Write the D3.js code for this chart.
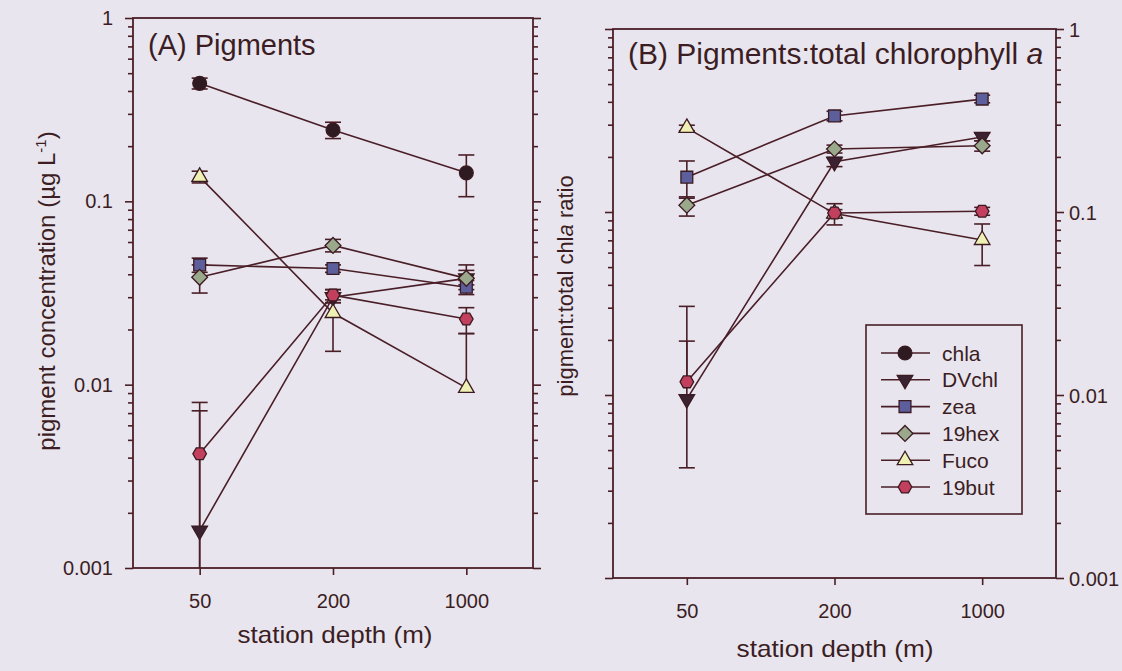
<!DOCTYPE html>
<html><head><meta charset="utf-8">
<script src="https://cdn.jsdelivr.net/npm/d3@7"></script>
<style>body{margin:0;background:#e8e5ee}svg{display:block}</style>
</head><body><svg id="c" width="1122" height="671"></svg>
<script>
// ---- data ----
const depths = ["50", "200", "1000"];
const names = ["chla", "DVchl", "zea", "19hex", "Fuco", "19but"];
const majorTicks = [0.001, 0.01, 0.1, 1];
const majorLabels = ["0.001", "0.01", "0.1", "1"];

// Panel A: pigment concentration (ug/L), with error-bar ends (null = none)
const aChla   = [0.44, 0.245, 0.143],  aChlaLo = [0.41, 0.22, 0.106],   aChlaHi = [0.47, 0.27, 0.179];
const aDV     = [0.0016, 0.030, 0.038], aDVLo  = [0.0001, 0.028, 0.035], aDVHi  = [0.0072, 0.033, 0.042];
const aZea    = [0.045, 0.043, 0.034],  aZeaLo = [0.041, 0.041, 0.031],  aZeaHi = [0.049, 0.045, 0.037];
const aHex    = [0.0385, 0.0575, 0.038], aHexLo = [0.0316, 0.053, 0.033], aHexHi = [0.045, 0.062, 0.045];
const aFuco   = [0.136, 0.0246, 0.0096], aFucoLo = [0.126, 0.0152, null], aFucoHi = [0.146, 0.028, 0.019];
const aBut    = [0.0042, 0.0308, 0.0228], aButLo = [0.0001, 0.029, 0.019], aButHi = [0.0080, 0.033, 0.0263];

// Panel B: pigment : total chla ratio
const bDV     = [0.0095, 0.188, 0.257], bDVLo  = [0.0040, 0.177, 0.245], bDVHi  = [0.0197, 0.199, 0.27];
const bZea    = [0.155, 0.335, 0.414],  bZeaLo = [0.121, 0.315, 0.395],  bZeaHi = [0.19, 0.355, 0.435];
const bHex    = [0.109, 0.221, 0.230],  bHexLo = [0.095, 0.21, 0.215],   bHexHi = [0.119, 0.232, 0.245];
const bFuco   = [0.288, 0.098, 0.0703], bFucoLo = [0.278, 0.093, 0.051], bFucoHi = [0.298, 0.103, 0.086];
const bBut    = [0.0118, 0.0988, 0.101], bButLo = [null, 0.085, 0.096],  bButHi = [0.0305, 0.111, 0.106];

// ---- styles ----
const INK = "#4a1e27", TXT = "#3b1d23", FONT = "'Liberation Sans', Arial, sans-serif";
const style = {
  chla:   {shape: "circle",   fill: "#2e1b21"},
  DVchl:  {shape: "tridown",  fill: "#3a2231"},
  zea:    {shape: "square",   fill: "#5d5f9d"},
  "19hex":{shape: "diamond",  fill: "#9aa98b"},
  Fuco:   {shape: "triup",    fill: "#eef0b4"},
  "19but":{shape: "hexagon",  fill: "#c2405e"}
};

function markerPath(shape) {
  switch (shape) {
    case "circle": return d3.symbol(d3.symbolCircle, 150)();
    case "square": return d3.symbol(d3.symbolSquare, 140)();
    case "diamond": return d3.symbol(d3.symbolSquare, 125)();
    case "triup": return d3.symbol(d3.symbolTriangle, 105)();
    case "tridown": return d3.symbol(d3.symbolTriangle, 105)();
    case "hexagon": {
      const r = 6.8;
      return d3.line()(d3.range(6).map(k => [r * Math.cos(Math.PI / 3 * k), r * Math.sin(Math.PI / 3 * k)])) + "Z";
    }
  }
}
function markerRot(shape) {
  return shape === "diamond" ? 45 : shape === "tridown" ? 180 : 0;
}

const svg = d3.select("#c");
svg.append("rect").attr("width", 1122).attr("height", 671).attr("fill", "#e8e5ee");

const minorTicks = [];
[0.001, 0.01, 0.1].forEach(d => { for (let k = 2; k <= 9; k++) minorTicks.push(+(k * d).toPrecision(3)); });

function drawPanel(box, series, opt) {
  const g = svg.append("g");
  const x = d3.scalePoint().domain(depths).range([box.x0, box.x1]).padding(0.5);
  const y = d3.scaleLog().domain([0.001, 1]).range([box.y1, box.y0]);
  const fmt = v => majorLabels[majorTicks.indexOf(v)];

  const clipId = "clip" + opt.id;
  g.append("clipPath").attr("id", clipId).append("rect")
    .attr("x", box.x0).attr("y", box.y0).attr("width", box.x1 - box.x0).attr("height", box.y1 - box.y0);

  function styleAxis(sel) {
    sel.select(".domain").remove();
    sel.selectAll("line").attr("stroke", INK).attr("stroke-width", 1.6);
    sel.selectAll("text").attr("fill", TXT).attr("font-family", FONT).attr("font-size", 20);
  }
  // left axis
  g.append("g").attr("transform", `translate(${box.x0},0)`)
    .call(d3.axisLeft(y).tickValues(majorTicks).tickSize(8).tickPadding(12).tickFormat(opt.leftLabels ? fmt : ""))
    .call(styleAxis);
  g.append("g").attr("transform", `translate(${box.x0},0)`)
    .call(d3.axisLeft(y).tickValues(minorTicks).tickSize(5).tickFormat(""))
    .call(styleAxis);
  // right axis
  g.append("g").attr("transform", `translate(${box.x1},0)`)
    .call(d3.axisRight(y).tickValues(majorTicks).tickSize(8).tickPadding(5).tickFormat(opt.rightLabels ? fmt : ""))
    .call(styleAxis)
    .call(s => s.selectAll("text").attr("dy", "0.35em"));
  g.append("g").attr("transform", `translate(${box.x1},0)`)
    .call(d3.axisRight(y).tickValues(minorTicks).tickSize(5).tickFormat(""))
    .call(styleAxis);
  // bottom axis
  g.append("g").attr("transform", `translate(0,${box.y1})`)
    .call(d3.axisBottom(x).tickSize(7).tickPadding(19))
    .call(styleAxis);

  // frame
  g.append("rect").attr("x", box.x0).attr("y", box.y0)
    .attr("width", box.x1 - box.x0).attr("height", box.y1 - box.y0)
    .attr("fill", "none").attr("stroke", INK).attr("stroke-width", 1.8);

  const plot = g.append("g").attr("clip-path", `url(#${clipId})`);
  // lines
  series.forEach(s => {
    plot.append("path")
      .attr("d", d3.line().x((d, i) => x(depths[i])).y(d => y(d))(s.v))
      .attr("fill", "none").attr("stroke", INK).attr("stroke-width", 1.6);
  });
  // error bars
  series.forEach(s => {
    s.v.forEach((v, i) => {
      const cx = x(depths[i]);
      const lo = s.lo[i], hi = s.hi[i];
      const yLo = lo == null ? y(v) : y(lo), yHi = hi == null ? y(v) : y(hi);
      plot.append("line").attr("x1", cx).attr("x2", cx).attr("y1", yLo).attr("y2", yHi)
        .attr("stroke", INK).attr("stroke-width", 1.6);
      [lo, hi].forEach(e => {
        if (e == null) return;
        plot.append("line").attr("x1", cx - 8).attr("x2", cx + 8).attr("y1", y(e)).attr("y2", y(e))
          .attr("stroke", INK).attr("stroke-width", 1.6);
      });
    });
  });
  // markers
  series.forEach(s => {
    const st = style[s.name];
    s.v.forEach((v, i) => {
      plot.append("path").attr("d", markerPath(st.shape))
        .attr("transform", `translate(${x(depths[i])},${y(v)}) rotate(${markerRot(st.shape)})`)
        .attr("fill", st.fill).attr("stroke", "#3a1a20").attr("stroke-width", 1.3);
    });
  });
  return {x, y, g};
}

// Panel A
drawPanel({x0: 133, x1: 533, y0: 18, y1: 568}, [
  {name: "chla", v: aChla, lo: aChlaLo, hi: aChlaHi},
  {name: "DVchl", v: aDV, lo: aDVLo, hi: aDVHi},
  {name: "zea", v: aZea, lo: aZeaLo, hi: aZeaHi},
  {name: "19hex", v: aHex, lo: aHexLo, hi: aHexHi},
  {name: "Fuco", v: aFuco, lo: aFucoLo, hi: aFucoHi},
  {name: "19but", v: aBut, lo: aButLo, hi: aButHi}
], {id: "A", leftLabels: true, rightLabels: false});

// Panel B
drawPanel({x0: 613, x1: 1056, y0: 29, y1: 578}, [
  {name: "DVchl", v: bDV, lo: bDVLo, hi: bDVHi},
  {name: "zea", v: bZea, lo: bZeaLo, hi: bZeaHi},
  {name: "19hex", v: bHex, lo: bHexLo, hi: bHexHi},
  {name: "Fuco", v: bFuco, lo: bFucoLo, hi: bFucoHi},
  {name: "19but", v: bBut, lo: bButLo, hi: bButHi}
], {id: "B", leftLabels: false, rightLabels: true});

// titles
const T = (x, y, size) => svg.append("text").attr("x", x).attr("y", y)
  .attr("font-family", FONT).attr("font-size", size).attr("fill", TXT);

T(148, 55, 29).text("(A) Pigments");
const tb = T(628, 64, 30);
tb.append("tspan").text("(B) Pigments:total chlorophyll ");
tb.append("tspan").attr("font-style", "italic").text("a");

T(335, 643, 24).attr("text-anchor", "middle").attr("textLength", 195).attr("lengthAdjust", "spacingAndGlyphs").text("station depth (m)");
T(835, 657, 24).attr("text-anchor", "middle").attr("textLength", 197).attr("lengthAdjust", "spacingAndGlyphs").text("station depth (m)");

const ya = T(0, 0, 24).attr("text-anchor", "middle").attr("transform", "translate(55,291) rotate(-90)");
ya.append("tspan").text("pigment concentration (µg L");
ya.append("tspan").attr("font-size", 15).attr("dy", -9).text("-1");
ya.append("tspan").attr("dy", 9).text(")");

const yb = T(0, 0, 22).attr("text-anchor", "middle").attr("transform", "translate(573,286) rotate(-90)");
yb.append("tspan").text("pigment:total chl");
yb.append("tspan").attr("font-style", "italic").text("a");
yb.append("tspan").text(" ratio");

// legend
const lg = svg.append("g");
lg.append("rect").attr("x", 866).attr("y", 325).attr("width", 156).attr("height", 189)
  .attr("fill", "none").attr("stroke", INK).attr("stroke-width", 1.6);
names.forEach((n, i) => {
  const yy = 353 + i * 26.8;
  const st = style[n];
  lg.append("line").attr("x1", 881).attr("x2", 930).attr("y1", yy).attr("y2", yy)
    .attr("stroke", INK).attr("stroke-width", 1.6);
  lg.append("path").attr("d", markerPath(st.shape))
    .attr("transform", `translate(905,${yy}) rotate(${markerRot(st.shape)})`)
    .attr("fill", st.fill).attr("stroke", "#3a1a20").attr("stroke-width", 1.3);
  lg.append("text").attr("x", 942).attr("y", yy + 7.5).attr("font-family", FONT)
    .attr("font-size", 21).attr("fill", TXT).text(n);
});
</script></body></html>
